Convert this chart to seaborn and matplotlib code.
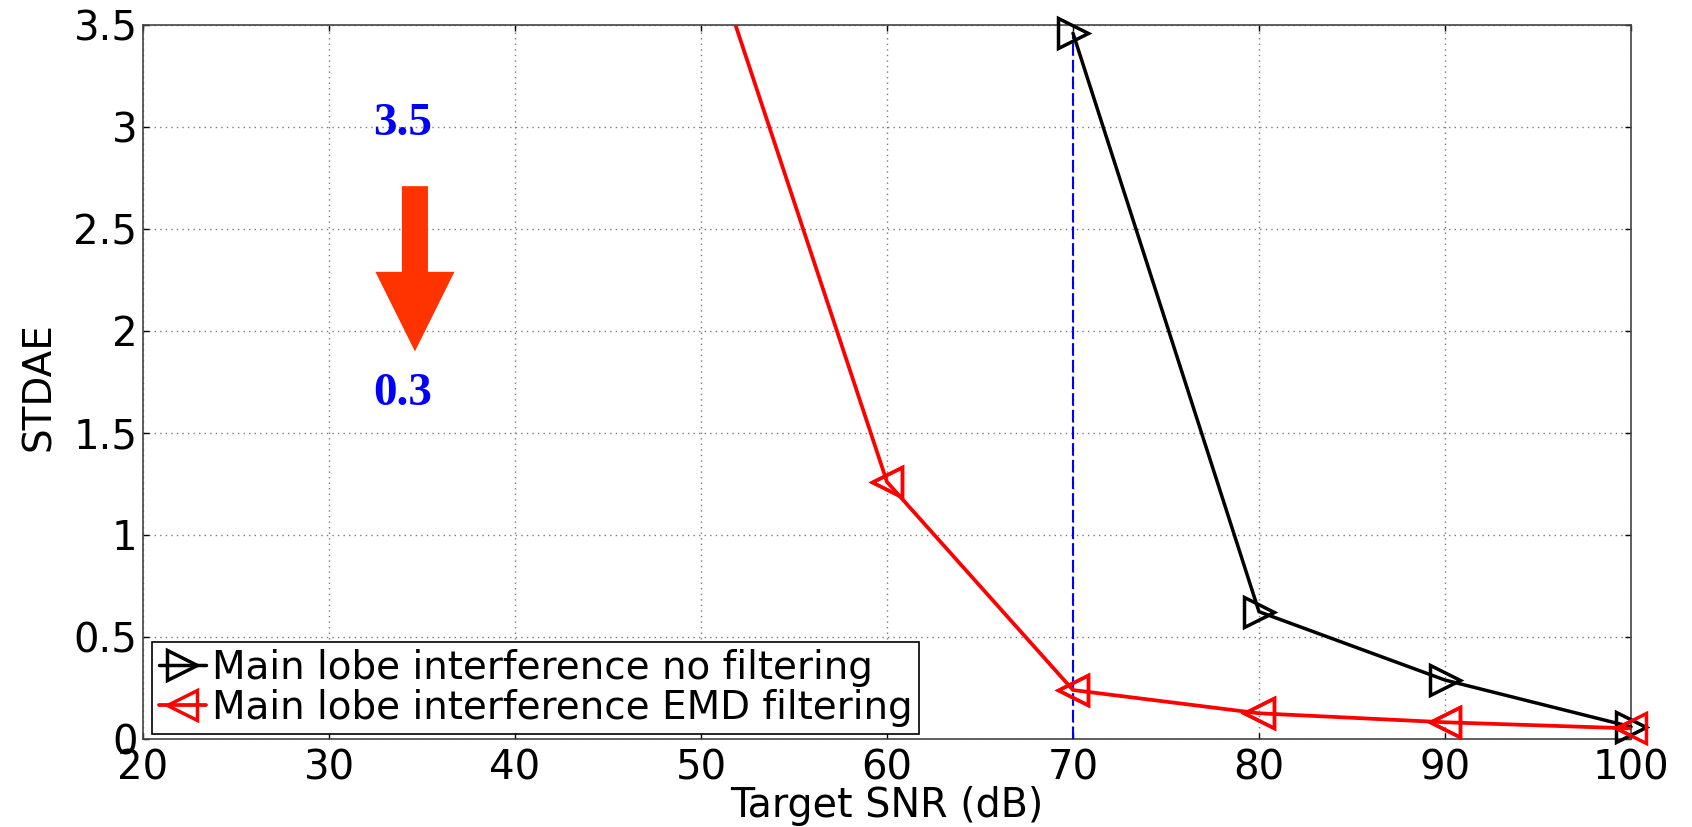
import matplotlib
matplotlib.use("Agg")
import matplotlib.pyplot as plt
import seaborn as sns
import pandas as pd

# ---- data ----
snr_black = [70, 80, 90, 100]
stdae_black = [3.46, 0.624, 0.289, 0.06]
snr_red = [50, 60, 70, 80, 90, 100]
stdae_red = [4.01, 1.26, 0.24, 0.126, 0.082, 0.052]
label_black = "Main lobe interference no filtering"
label_red = "Main lobe interference EMD filtering"
x_ticks = [20, 30, 40, 50, 60, 70, 80, 90, 100]
y_ticks = [0, 0.5, 1, 1.5, 2, 2.5, 3, 3.5]
y_ticklabels = ["0", "0.5", "1", "1.5", "2", "2.5", "3", "3.5"]
ref_x = 70
ref_top = 3.45
ann_top, ann_bottom = "3.5", "0.3"

sns.set_style("ticks")
plt.rcParams['font.family'] = ['DejaVu Sans']
plt.rcParams.update({"text.color": "black", "axes.labelcolor": "black",
                     "xtick.color": "black", "ytick.color": "black"})

W, H = 1692, 827
fig = plt.figure(figsize=(W / 100, H / 100), dpi=100)
ax = fig.add_axes([143 / W, (H - 739) / H, (1631 - 143) / W, (739 - 25) / H])

df_b = pd.DataFrame({"x": snr_black, "y": stdae_black})
df_r = pd.DataFrame({"x": snr_red, "y": stdae_red})

mk = dict(markersize=22, markerfacecolor="none", markeredgewidth=2.5)
sns.lineplot(data=df_b, x="x", y="y", ax=ax, color="black", lw=2.5,
             marker=">", markeredgecolor="black", label=label_black,
             zorder=4, **mk)
sns.lineplot(data=df_r, x="x", y="y", ax=ax, color="red", lw=2.7,
             marker="<", markeredgecolor="red", label=label_red,
             zorder=5, **mk)
ax.lines[0].set_clip_on(False)
# red markers that sit inside the y range, drawn unclipped
in_rng = df_r[df_r["y"] <= 3.5]
ax.plot(in_rng["x"], in_rng["y"], ls="none", marker="<", color="red",
        clip_on=False, zorder=5, **mk)

ax.plot([ref_x, ref_x], [0, ref_top], color="blue", lw=1.5,
        ls=(0, (6, 2)), zorder=3)

ax.set_xlim(20, 100)
ax.set_ylim(0, 3.5)
ax.set_xticks(x_ticks)
ax.set_yticks(y_ticks)
ax.set_xticklabels([str(v) for v in x_ticks])
ax.set_yticklabels(y_ticklabels)
ax.tick_params(direction="in", length=4, width=1, top=True, right=True,
               labelsize=29, colors="black")
ax.tick_params(axis="x", pad=7)
ax.tick_params(axis="y", pad=4)
ax.grid(True, color="#7a7a7a", ls=(0, (1, 3)), lw=1)
for s in ax.spines.values():
    s.set_color("#444444")
    s.set_linewidth(1.2)

ax.set_xlabel("Target SNR (dB)", fontsize=28.5, color="black")
ax.set_ylabel("STDAE", fontsize=28, color="black")
ax.xaxis.set_label_coords(0.5, -0.0655)
ax.yaxis.set_label_coords(-0.057, 0.494)

# annotation
ax.text(33.95, 2.961, ann_top, color="blue", fontsize=34, fontweight="bold",
        family="Liberation Serif", ha="center", va="baseline")
ax.text(33.95, 1.637, ann_bottom, color="blue", fontsize=34, fontweight="bold",
        family="Liberation Serif", ha="center", va="baseline")
ax.arrow(34.62, 2.71, 0, -(2.71 - 1.90), width=1.40, head_width=4.25,
         head_length=0.39, length_includes_head=True, color="#FF3300", lw=0)

leg = ax.legend(loc="lower left", bbox_to_anchor=(0.006, 0.007), fontsize=28,
                frameon=True, fancybox=False, edgecolor="black", framealpha=1,
                handlelength=1.2, handletextpad=0.16, borderpad=0.18,
                labelspacing=0.05, borderaxespad=0, markerscale=1.0)
leg.get_frame().set_linewidth(1.2)
for t in leg.get_texts():
    t.set_color("black")

fig.savefig("out.png", dpi=100)
